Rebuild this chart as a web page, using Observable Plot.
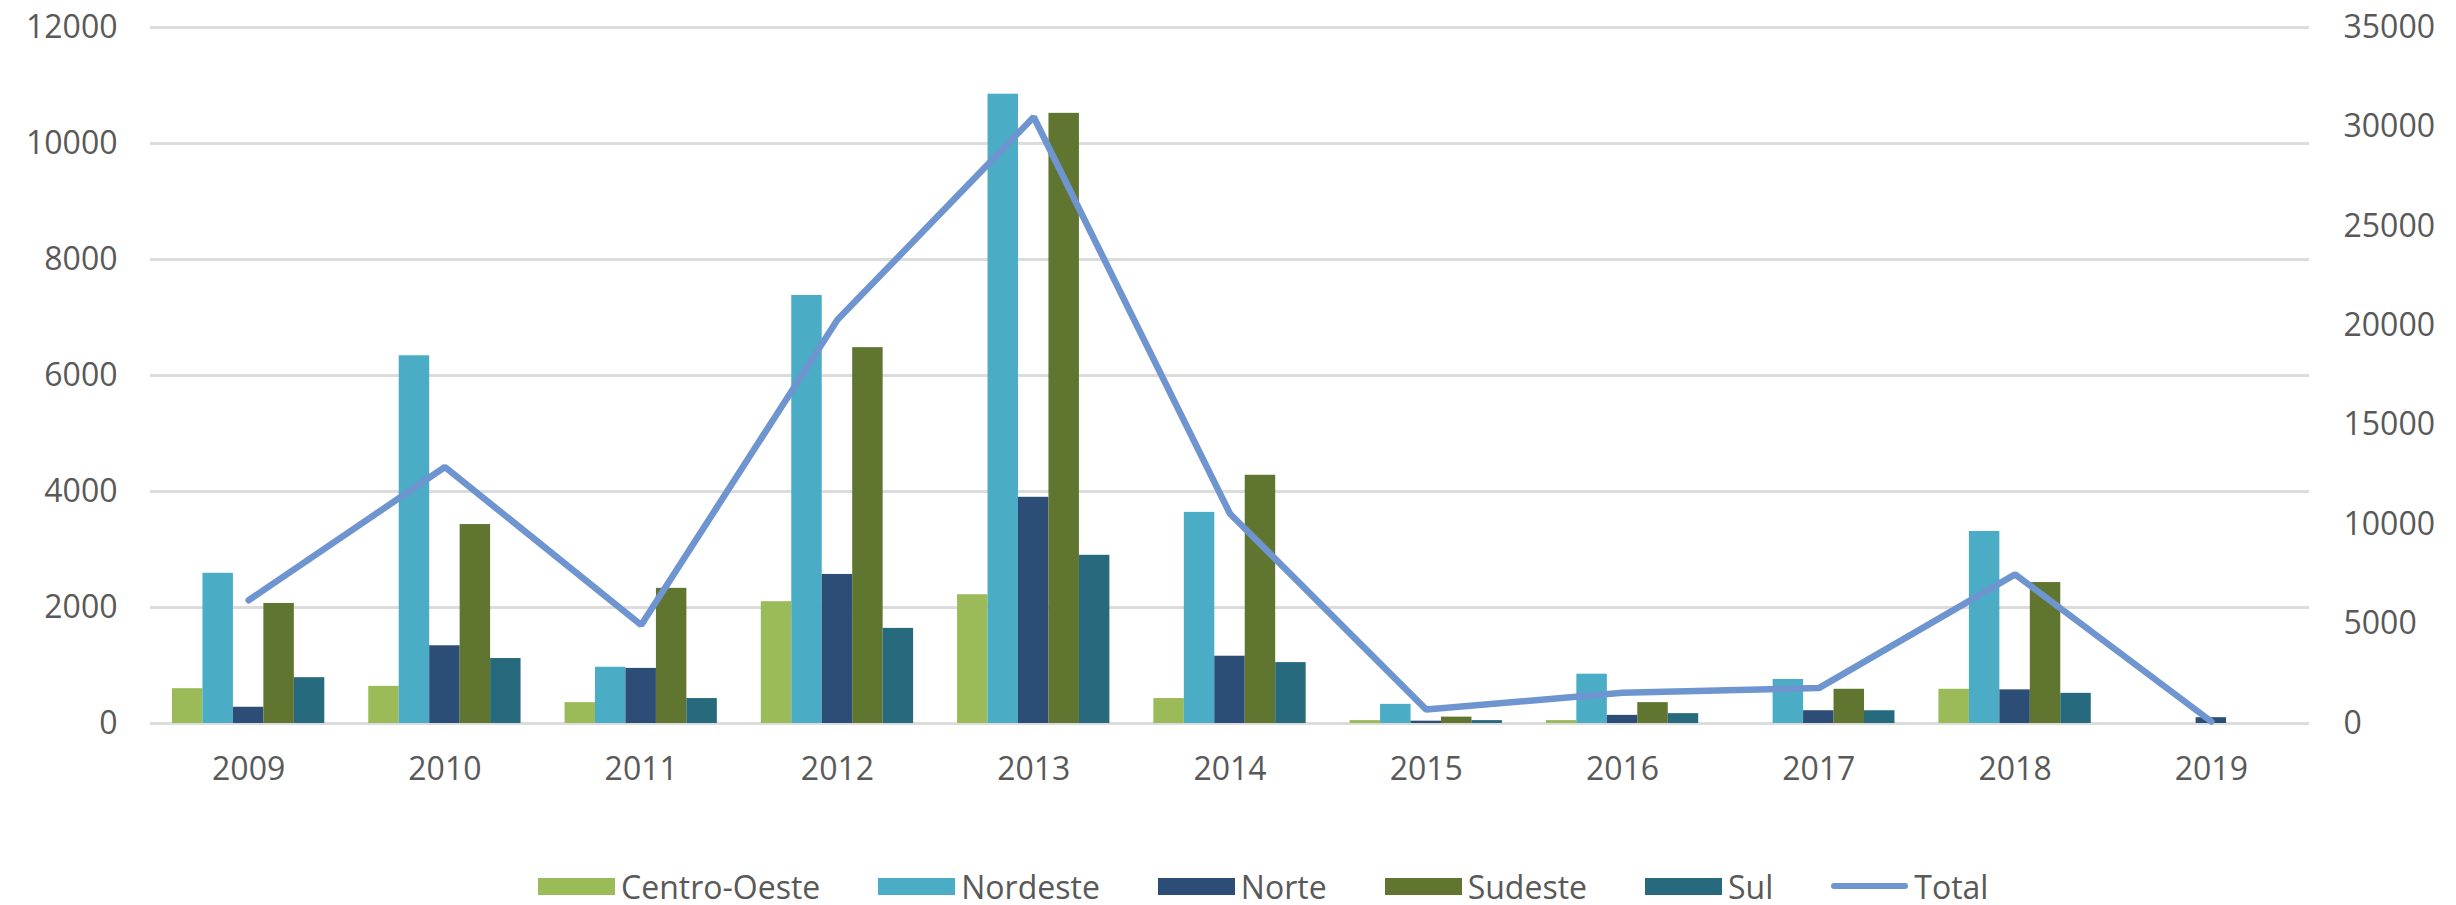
<!DOCTYPE html>
<html>
<head>
<meta charset="utf-8">
<script src="https://cdn.jsdelivr.net/npm/d3@7"></script>
<script src="https://cdn.jsdelivr.net/npm/@observablehq/plot@0.6"></script>
<style>
  html, body { margin: 0; padding: 0; background: #fff; }
  #wrap { position: relative; width: 2456px; height: 905px; font-family: "Open Sans", sans-serif; }
  #legend { position: absolute; left: 538px; top: 866px; height: 40px; display: flex; align-items: center; gap: 58px; font-size: 32px; color: #595959; }
  .item { display: flex; align-items: center; gap: 6px; }
  .sw { width: 77px; height: 17px; }
  .ln { width: 77px; height: 6px; border-radius: 3px; }
</style>
</head>
<body>
<div id="wrap">
  <div id="chart"></div>
  <div id="legend"></div>
</div>
<script>
const years = [2009, 2010, 2011, 2012, 2013, 2014, 2015, 2016, 2017, 2018, 2019];
const regions = ["Centro-Oeste", "Nordeste", "Norte", "Sudeste", "Sul"];
const colors = ["#9bbb59", "#4bacc6", "#2c4d75", "#5f7530", "#276a7d"];
const centroOeste = [600, 640, 360, 2100, 2220, 430, 50, 50, 0, 590, 0];
const nordeste = [2590, 6340, 970, 7380, 10850, 3640, 330, 850, 760, 3310, 0];
const norte = [280, 1340, 950, 2570, 3900, 1160, 40, 140, 220, 580, 100];
const sudeste = [2070, 3430, 2330, 6480, 10520, 4280, 110, 360, 590, 2430, 0];
const sul = [790, 1120, 430, 1640, 2900, 1050, 50, 170, 220, 520, 0];
const total = [6200, 12900, 4950, 20300, 30500, 10550, 700, 1550, 1780, 7500, 100];
const leftTicks = [0, 2000, 4000, 6000, 8000, 10000, 12000];
const rightTicks = [0, 5000, 10000, 15000, 20000, 25000, 30000, 35000];
const lineColor = "#6e95d0";

const series = [centroOeste, nordeste, norte, sudeste, sul];
const bars = [];
series.forEach((vals, k) => vals.forEach((v, i) => bars.push({year: years[i], region: regions[k], k, value: v})));
const lineData = years.map((y, i) => ({year: y, total: total[i]}));

const k = 12000 / 35000;      // right-axis values mapped into the left scale
const group = 0.776;          // share of each year's band taken by the bar group
const bw = group / regions.length;

const chart = Plot.plot({
  width: 2456,
  height: 860,
  marginLeft: 150,
  marginRight: 147,
  marginTop: 27,
  marginBottom: 137,
  style: {fontFamily: "Open Sans, sans-serif", fontSize: "32px", color: "#595959", background: "#fff"},
  x: {type: "linear", domain: [2008.5, 2019.5], axis: null},
  y: {domain: [0, 12000], axis: null},
  color: {domain: regions, range: colors},
  marks: [
    Plot.gridY(leftTicks, {stroke: "#dcdcdc", strokeOpacity: 1, strokeWidth: 3}),
    Plot.axisY(leftTicks, {anchor: "left", tickSize: 0, tickPadding: 33, fontSize: 32, fill: "#595959", label: null, tickFormat: d => String(d)}),
    Plot.axisY(rightTicks.map(v => v * k), {anchor: "right", tickSize: 0, tickPadding: 34, fontSize: 32, fill: "#595959", textAnchor: "start", label: null, tickFormat: v => String(Math.round(v / k))}),
    Plot.axisX(years, {anchor: "bottom", tickSize: 0, tickPadding: 34, fontSize: 32, fill: "#595959", label: null, tickFormat: d => String(d)}),
    Plot.rectY(bars, {
      x1: d => d.year - group / 2 + d.k * bw,
      x2: d => d.year - group / 2 + (d.k + 1) * bw,
      y: "value",
      fill: "region"
    }),
    Plot.lineY(lineData, {x: "year", y: d => d.total * k, stroke: lineColor, strokeWidth: 6.5, strokeLinejoin: "miter"})
  ]
});
document.getElementById("chart").appendChild(chart);

const legend = document.getElementById("legend");
regions.forEach((r, i) => {
  const it = document.createElement("div");
  it.className = "item";
  it.innerHTML = `<span class="sw" style="background:${colors[i]}"></span><span>${r}</span>`;
  legend.appendChild(it);
});
const it = document.createElement("div");
it.className = "item";
it.innerHTML = `<span class="ln" style="background:${lineColor}"></span><span>Total</span>`;
legend.appendChild(it);
</script>
</body>
</html>
